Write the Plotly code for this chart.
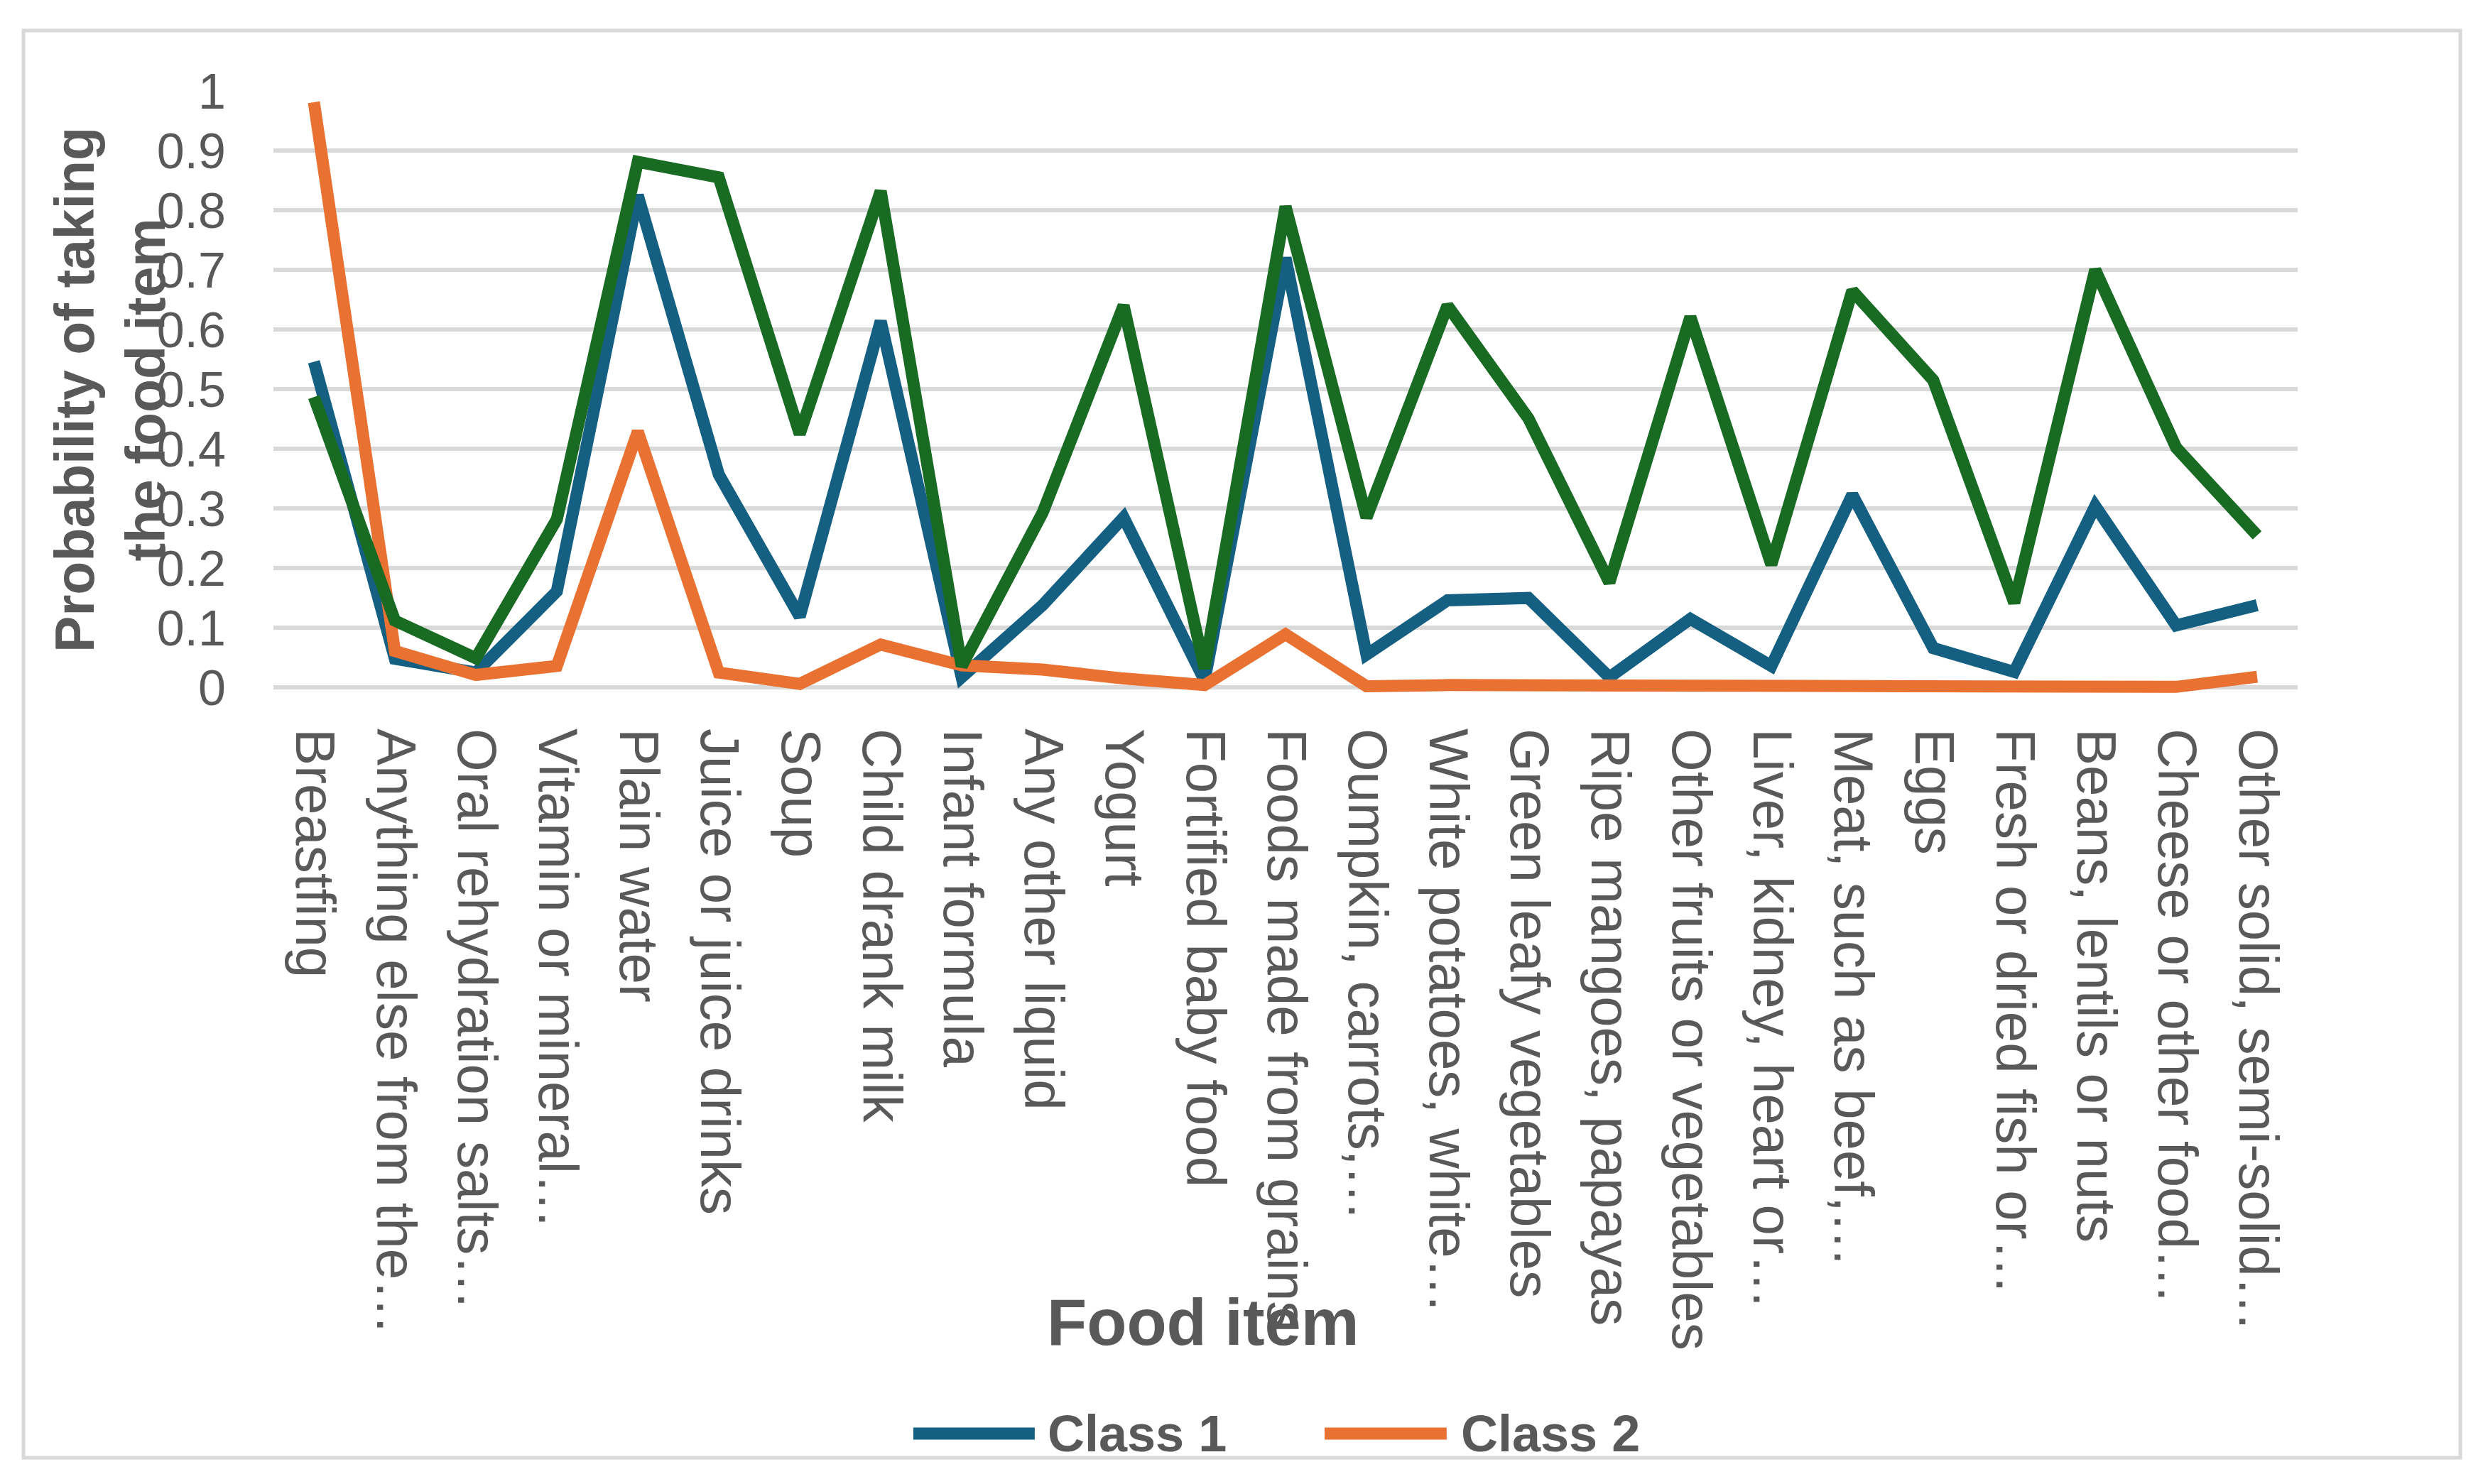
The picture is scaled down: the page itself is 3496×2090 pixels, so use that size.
import plotly.graph_objects as go

categories = [
    "Breastfing", "Anything else from the…", "Oral rehydration salts…", "Vitamin or mineral…",
    "Plain water", "Juice or juice drinks", "Soup", "Child drank milk", "Infant formula",
    "Any other liquid", "Yogurt", "Fortified baby food", "Foods made from grains",
    "Oumpkin, carrots,…", "White potatoes, white…", "Green leafy vegetables",
    "Ripe mangoes, papayas", "Other fruits or vegetables", "Liver, kidney, heart or…",
    "Meat, such as beef,…", "Eggs", "Fresh or dried fish or…", "Beans, lentils or nuts",
    "Cheese or other food…", "Other solid, semi-solid…",
]

class1 = [0.546, 0.048, 0.025, 0.161, 0.825, 0.357, 0.119, 0.614, 0.017, 0.138, 0.285, 0.012,
          0.72, 0.055, 0.146, 0.150, 0.017, 0.115, 0.036, 0.323, 0.066, 0.026, 0.304, 0.104, 0.138]
class2 = [0.981, 0.061, 0.021, 0.036, 0.429, 0.025, 0.006, 0.072, 0.037, 0.030, 0.015, 0.004,
          0.089, 0.002, 0.004, 0.004, 0.002, 0.001, 0.001, 0.001, 0.001, 0.001, 0.004, 0.001, 0.018]
class3 = [0.487, 0.112, 0.049, 0.282, 0.881, 0.855, 0.425, 0.832, 0.036, 0.293, 0.640, 0.032,
          0.806, 0.285, 0.640, 0.451, 0.176, 0.621, 0.206, 0.665, 0.515, 0.142, 0.700, 0.402, 0.255]

series_names = ["Class 1", "Class 2", "Class 3"]
series_colors = ["#156082", "#E97132", "#196B24"]

y_tickvals = [0, 0.1, 0.2, 0.3, 0.4, 0.5, 0.6, 0.7, 0.8, 0.9, 1]
y_ticktext = ["0", "0.1", "0.2", "0.3", "0.4", "0.5", "0.6", "0.7", "0.8", "0.9", "1"]

TEXT = "#595959"
GRID = "#D9D9D9"
FONT = "Liberation Sans, Arial, sans-serif"

fig = go.Figure()
for name, vals, col in zip(series_names, [class1, class2, class3], series_colors):
    fig.add_trace(go.Scatter(
        x=categories, y=vals, mode="lines", name=name,
        line=dict(color=col, width=17),
        showlegend=False,
    ))

fig.update_layout(
    width=3496, height=2090,
    paper_bgcolor="white", plot_bgcolor="white",
    margin=dict(l=377, r=269, t=120, b=1113),
    font=dict(family=FONT, color=TEXT),
    showlegend=False,
)

fig.update_xaxes(
    type="category", tickangle=90, automargin=False,
    range=[-0.5, len(categories) - 0.5],
    tickfont=dict(size=78, color=TEXT, family=FONT),
    showgrid=False, showline=False, zeroline=False, ticks="",
    ticklabelstandoff=40,
)
fig.update_yaxes(
    range=[-0.02, 1.0], automargin=False,
    tickvals=y_tickvals, ticktext=y_ticktext,
    tickfont=dict(size=70, color=TEXT, family=FONT),
    showgrid=True, gridcolor=GRID, gridwidth=6,
    zeroline=False, showline=False, ticks="",
    ticklabelstandoff=66,
)

# outer chart border
fig.add_shape(type="rect", xref="paper", yref="paper",
              x0=-0.1235, x1=1.0804, y0=-1.2462, y1=1.0992,
              line=dict(color=GRID, width=5), fillcolor="rgba(0,0,0,0)", layer="below")

# axis titles
fig.add_annotation(text="Probability of taking<br>the food item", xref="paper", yref="paper",
                   x=-0.0807, y=0.5088, xanchor="center", yanchor="middle", textangle=-90,
                   showarrow=False, font=dict(size=77, color=TEXT, family=FONT, weight="bold"))
fig.add_annotation(text="<b>Food item</b>", xref="paper", yref="paper",
                   x=0.4593, y=-1.0233, xanchor="center", yanchor="middle",
                   showarrow=False, font=dict(size=92, color=TEXT, family=FONT))

# legend (Class 1, Class 2)
legend_items = [(0, 0.3161, 0.3761, 0.3818), (1, 0.5193, 0.5796, 0.5860)]
for idx, lx0, lx1, tx in legend_items:
    fig.add_shape(type="line", xref="paper", yref="paper", x0=lx0, x1=lx1, y0=-1.2066, y1=-1.2066,
                  line=dict(color=series_colors[idx], width=17))
    fig.add_annotation(text="<b>" + series_names[idx] + "</b>", xref="paper", yref="paper",
                       x=tx, y=-1.2066, xanchor="left", yanchor="middle", showarrow=False,
                       font=dict(size=72, color=TEXT, family=FONT))

fig.write_html("out.html")
